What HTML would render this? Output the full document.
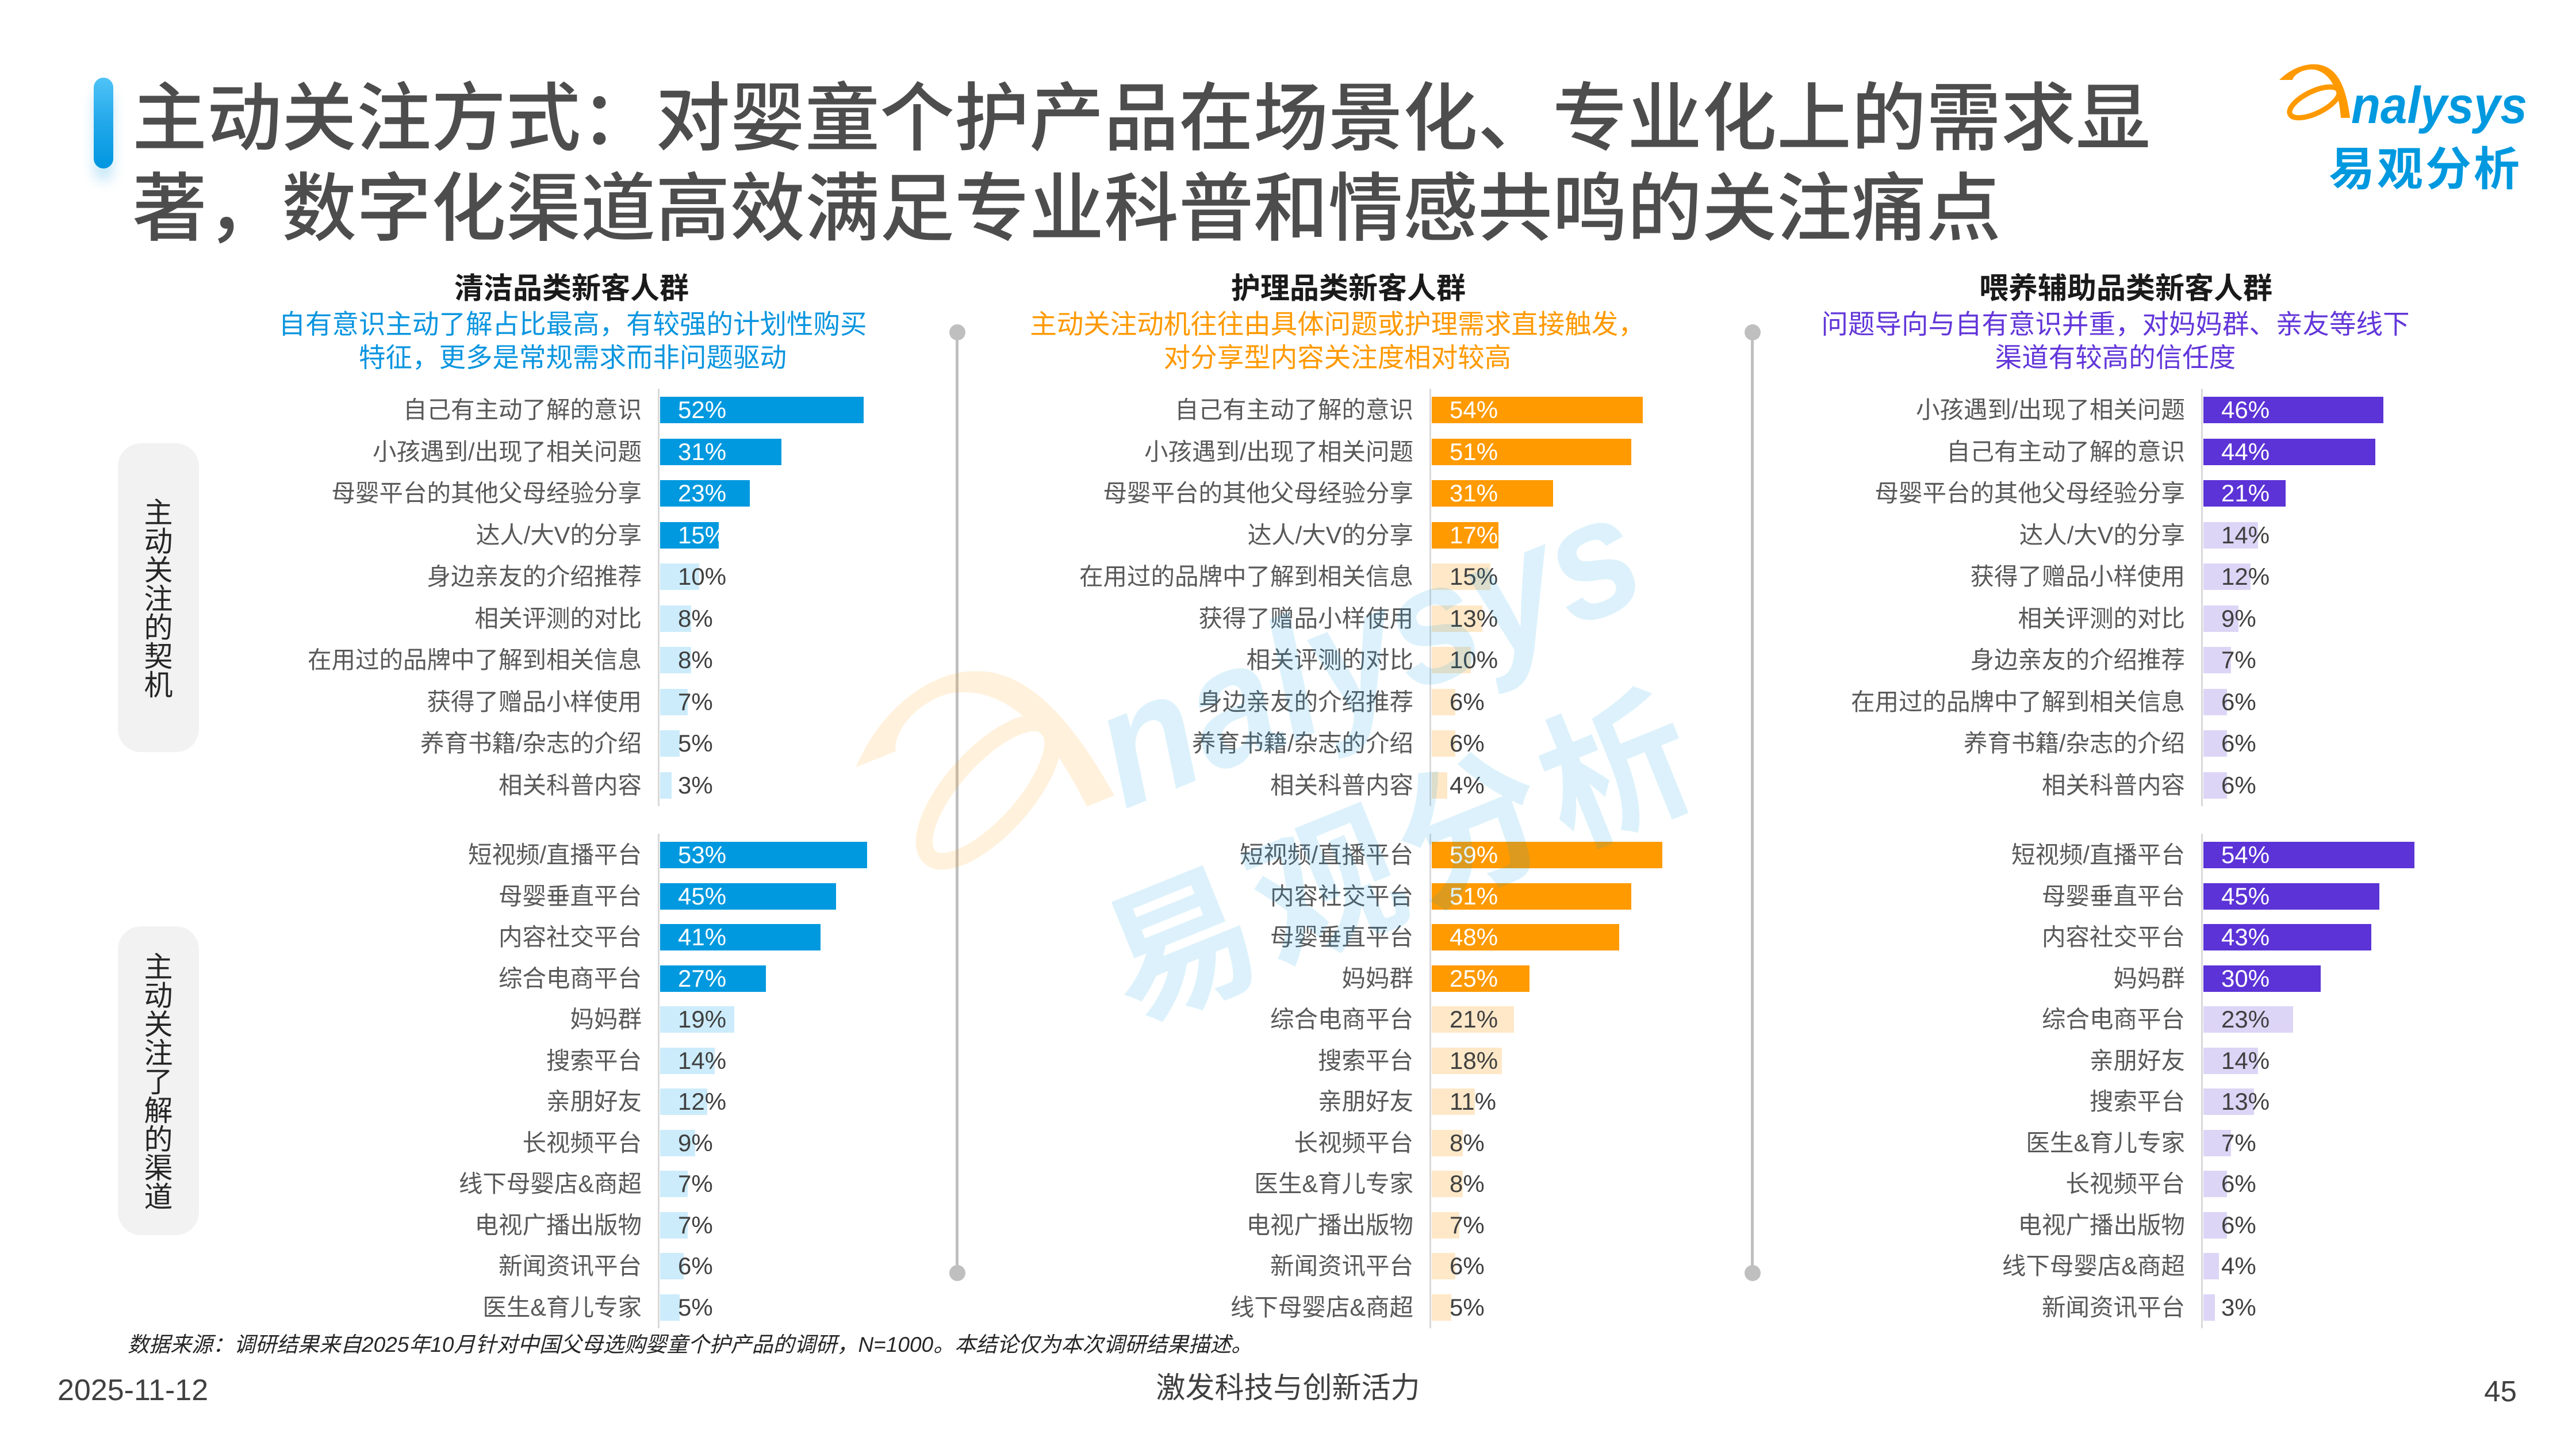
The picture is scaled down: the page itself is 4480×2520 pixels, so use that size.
<!DOCTYPE html>
<html lang="zh-CN">
<head>
<meta charset="utf-8">
<style>
html,body{margin:0;padding:0;background:#fff;}
#pg{position:relative;width:4480px;height:2520px;overflow:hidden;background:#fff;font-family:"Liberation Sans","Noto Sans CJK SC",sans-serif;}
.abs{position:absolute;white-space:nowrap;}
.accent{position:absolute;left:163px;top:135px;width:34px;height:158px;border-radius:17px;background:linear-gradient(180deg,#4fc3f7 0%,#22a8ea 50%,#0096e0 100%);box-shadow:0 22px 22px rgba(0,150,224,0.22);}
.title{position:absolute;left:230px;top:128px;font-size:130px;line-height:157px;color:#4d4d4d;font-weight:500;white-space:nowrap;}
.hd{position:absolute;width:1600px;text-align:center;font-size:51px;line-height:70px;font-weight:bold;color:#1a1a1a;top:467px;white-space:nowrap;}
.sub{position:absolute;width:1600px;text-align:center;font-size:46.5px;line-height:58px;top:535px;white-space:nowrap;}
.col{position:absolute;top:0;width:0;height:0;}
.ax{position:absolute;left:-4px;width:3px;background:#d9d9d9;}
.r{position:absolute;left:0;width:0;height:0;}
.l{position:absolute;right:32px;top:-30px;line-height:60px;font-size:41.5px;color:#595959;white-space:nowrap;}
.b{position:absolute;left:0;top:-23px;height:46px;}
.p{position:absolute;left:31px;top:-30px;line-height:60px;font-size:42px;color:#404040;white-space:nowrap;}
.w{color:#fff;}
.c1 .d{background:#0099df;} .c1 .g{background:#ccecfb;}
.c2 .d{background:#ff9a00;} .c2 .g{background:#ffe8c8;}
.c3 .d{background:#5b33d6;} .c3 .g{background:#ddd5f6;}
.box{position:absolute;left:205px;width:141px;border-radius:40px;background:#f2f2f2;display:flex;align-items:center;justify-content:center;}
.box span{writing-mode:vertical-rl;font-size:50px;line-height:1;color:#262626;font-family:"Noto Sans CJK SC",sans-serif;}
.dv{position:absolute;width:5px;background:#bfbfbf;top:578px;height:1636px;}
.dot{position:absolute;width:28px;height:28px;border-radius:50%;background:#bfbfbf;}
</style>
</head>
<body>
<div id="pg">

<div class="accent"></div>
<div class="title">主动关注方式：对婴童个护产品在场景化、专业化上的需求显<br>著，数字化渠道高效满足专业科普和情感共鸣的关注痛点</div>

<!-- logo -->
<svg class="abs" style="left:0;top:0" width="4480" height="400" viewBox="0 0 4480 400">
  <path d="M3964,139 C3985,118 4010,110 4030,112 C4065,116 4080,150 4087,205 L4071,205 C4068,165 4058,128 4025,121 C4008,119 3990,128 3987,139 Z" fill="#ff9900"/>
  <ellipse cx="4025" cy="178" rx="47" ry="19" transform="rotate(-26 4025 178)" fill="none" stroke="#ff9900" stroke-width="9"/>
  <text x="4089" y="214" font-family="Liberation Sans" font-size="90" font-style="italic" font-weight="bold" fill="#0099df" textLength="306" lengthAdjust="spacingAndGlyphs">nalysys</text>
  <text x="4050" y="322" font-family="Noto Sans CJK SC, sans-serif" font-size="80" font-weight="bold" fill="#0099df" letter-spacing="4">易观分析</text>
</svg>

<!-- column headings -->
<div class="hd" style="left:194px">清洁品类新客人群</div>
<div class="hd" style="left:1545px">护理品类新客人群</div>
<div class="hd" style="left:2897px">喂养辅助品类新客人群</div>

<div class="sub" style="left:196px;color:#0a95df">自有意识主动了解占比最高，有较强的计划性购买<br>特征，更多是常规需求而非问题驱动</div>
<div class="sub" style="left:1526px;color:#ff9900">主动关注动机往往由具体问题或护理需求直接触发，<br>对分享型内容关注度相对较高</div>
<div class="sub" style="left:2879px;color:#6236d9">问题导向与自有意识并重，对妈妈群、亲友等线下<br>渠道有较高的信任度</div>

<!-- dividers -->
<div class="dv" style="left:1662px"></div>
<div class="dot" style="left:1651px;top:564px"></div>
<div class="dot" style="left:1651px;top:2200px"></div>
<div class="dv" style="left:3045px"></div>
<div class="dot" style="left:3034px;top:564px"></div>
<div class="dot" style="left:3034px;top:2200px"></div>

<!-- side boxes -->
<div class="box" style="top:771px;height:537px"><span>主动关注的契机</span></div>
<div class="box" style="top:1611px;height:537px"><span>主动关注了解的渠道</span></div>

<!-- column 1 -->
<div class="col c1" style="left:1148px">
  <div class="ax" style="top:676px;height:726px"></div>
  <div class="ax" style="top:1450px;height:860px"></div>
  <div class="r" style="top:713px"><span class="l">自己有主动了解的意识</span><i class="b d" style="width:353.6px"></i><span class="p w">52%</span></div>
  <div class="r" style="top:785.5px"><span class="l">小孩遇到/出现了相关问题</span><i class="b d" style="width:210.8px"></i><span class="p w">31%</span></div>
  <div class="r" style="top:858px"><span class="l">母婴平台的其他父母经验分享</span><i class="b d" style="width:156.4px"></i><span class="p w">23%</span></div>
  <div class="r" style="top:930.5px"><span class="l">达人/大V的分享</span><i class="b d" style="width:102px"></i><span class="p w">15%</span></div>
  <div class="r" style="top:1003px"><span class="l">身边亲友的介绍推荐</span><i class="b g" style="width:68px"></i><span class="p">10%</span></div>
  <div class="r" style="top:1075.5px"><span class="l">相关评测的对比</span><i class="b g" style="width:54.4px"></i><span class="p">8%</span></div>
  <div class="r" style="top:1148px"><span class="l">在用过的品牌中了解到相关信息</span><i class="b g" style="width:54.4px"></i><span class="p">8%</span></div>
  <div class="r" style="top:1220.5px"><span class="l">获得了赠品小样使用</span><i class="b g" style="width:47.6px"></i><span class="p">7%</span></div>
  <div class="r" style="top:1293px"><span class="l">养育书籍/杂志的介绍</span><i class="b g" style="width:34px"></i><span class="p">5%</span></div>
  <div class="r" style="top:1365.5px"><span class="l">相关科普内容</span><i class="b g" style="width:20.4px"></i><span class="p">3%</span></div>

  <div class="r" style="top:1487px"><span class="l">短视频/直播平台</span><i class="b d" style="width:360.4px"></i><span class="p w">53%</span></div>
  <div class="r" style="top:1558.5px"><span class="l">母婴垂直平台</span><i class="b d" style="width:306px"></i><span class="p w">45%</span></div>
  <div class="r" style="top:1630px"><span class="l">内容社交平台</span><i class="b d" style="width:278.8px"></i><span class="p w">41%</span></div>
  <div class="r" style="top:1701.5px"><span class="l">综合电商平台</span><i class="b d" style="width:183.6px"></i><span class="p w">27%</span></div>
  <div class="r" style="top:1773px"><span class="l">妈妈群</span><i class="b g" style="width:129.2px"></i><span class="p">19%</span></div>
  <div class="r" style="top:1844.5px"><span class="l">搜索平台</span><i class="b g" style="width:95.2px"></i><span class="p">14%</span></div>
  <div class="r" style="top:1916px"><span class="l">亲朋好友</span><i class="b g" style="width:81.6px"></i><span class="p">12%</span></div>
  <div class="r" style="top:1987.5px"><span class="l">长视频平台</span><i class="b g" style="width:61.2px"></i><span class="p">9%</span></div>
  <div class="r" style="top:2059px"><span class="l">线下母婴店&amp;商超</span><i class="b g" style="width:47.6px"></i><span class="p">7%</span></div>
  <div class="r" style="top:2130.5px"><span class="l">电视广播出版物</span><i class="b g" style="width:47.6px"></i><span class="p">7%</span></div>
  <div class="r" style="top:2202px"><span class="l">新闻资讯平台</span><i class="b g" style="width:40.8px"></i><span class="p">6%</span></div>
  <div class="r" style="top:2273.5px"><span class="l">医生&amp;育儿专家</span><i class="b g" style="width:34px"></i><span class="p">5%</span></div>
</div>

<!-- column 2 -->
<div class="col c2" style="left:2490px">
  <div class="ax" style="top:676px;height:726px"></div>
  <div class="ax" style="top:1450px;height:860px"></div>
  <div class="r" style="top:713px"><span class="l">自己有主动了解的意识</span><i class="b d" style="width:367.2px"></i><span class="p w">54%</span></div>
  <div class="r" style="top:785.5px"><span class="l">小孩遇到/出现了相关问题</span><i class="b d" style="width:346.8px"></i><span class="p w">51%</span></div>
  <div class="r" style="top:858px"><span class="l">母婴平台的其他父母经验分享</span><i class="b d" style="width:210.8px"></i><span class="p w">31%</span></div>
  <div class="r" style="top:930.5px"><span class="l">达人/大V的分享</span><i class="b d" style="width:115.6px"></i><span class="p w">17%</span></div>
  <div class="r" style="top:1003px"><span class="l">在用过的品牌中了解到相关信息</span><i class="b g" style="width:102px"></i><span class="p">15%</span></div>
  <div class="r" style="top:1075.5px"><span class="l">获得了赠品小样使用</span><i class="b g" style="width:88.4px"></i><span class="p">13%</span></div>
  <div class="r" style="top:1148px"><span class="l">相关评测的对比</span><i class="b g" style="width:68px"></i><span class="p">10%</span></div>
  <div class="r" style="top:1220.5px"><span class="l">身边亲友的介绍推荐</span><i class="b g" style="width:40.8px"></i><span class="p">6%</span></div>
  <div class="r" style="top:1293px"><span class="l">养育书籍/杂志的介绍</span><i class="b g" style="width:40.8px"></i><span class="p">6%</span></div>
  <div class="r" style="top:1365.5px"><span class="l">相关科普内容</span><i class="b g" style="width:27.2px"></i><span class="p">4%</span></div>

  <div class="r" style="top:1487px"><span class="l">短视频/直播平台</span><i class="b d" style="width:401.2px"></i><span class="p w">59%</span></div>
  <div class="r" style="top:1558.5px"><span class="l">内容社交平台</span><i class="b d" style="width:346.8px"></i><span class="p w">51%</span></div>
  <div class="r" style="top:1630px"><span class="l">母婴垂直平台</span><i class="b d" style="width:326.4px"></i><span class="p w">48%</span></div>
  <div class="r" style="top:1701.5px"><span class="l">妈妈群</span><i class="b d" style="width:170px"></i><span class="p w">25%</span></div>
  <div class="r" style="top:1773px"><span class="l">综合电商平台</span><i class="b g" style="width:142.8px"></i><span class="p">21%</span></div>
  <div class="r" style="top:1844.5px"><span class="l">搜索平台</span><i class="b g" style="width:122.4px"></i><span class="p">18%</span></div>
  <div class="r" style="top:1916px"><span class="l">亲朋好友</span><i class="b g" style="width:74.8px"></i><span class="p">11%</span></div>
  <div class="r" style="top:1987.5px"><span class="l">长视频平台</span><i class="b g" style="width:54.4px"></i><span class="p">8%</span></div>
  <div class="r" style="top:2059px"><span class="l">医生&amp;育儿专家</span><i class="b g" style="width:54.4px"></i><span class="p">8%</span></div>
  <div class="r" style="top:2130.5px"><span class="l">电视广播出版物</span><i class="b g" style="width:47.6px"></i><span class="p">7%</span></div>
  <div class="r" style="top:2202px"><span class="l">新闻资讯平台</span><i class="b g" style="width:40.8px"></i><span class="p">6%</span></div>
  <div class="r" style="top:2273.5px"><span class="l">线下母婴店&amp;商超</span><i class="b g" style="width:34px"></i><span class="p">5%</span></div>
</div>

<!-- column 3 -->
<div class="col c3" style="left:3832px">
  <div class="ax" style="top:676px;height:726px"></div>
  <div class="ax" style="top:1450px;height:860px"></div>
  <div class="r" style="top:713px"><span class="l">小孩遇到/出现了相关问题</span><i class="b d" style="width:312.8px"></i><span class="p w">46%</span></div>
  <div class="r" style="top:785.5px"><span class="l">自己有主动了解的意识</span><i class="b d" style="width:299.2px"></i><span class="p w">44%</span></div>
  <div class="r" style="top:858px"><span class="l">母婴平台的其他父母经验分享</span><i class="b d" style="width:142.8px"></i><span class="p w">21%</span></div>
  <div class="r" style="top:930.5px"><span class="l">达人/大V的分享</span><i class="b g" style="width:95.2px"></i><span class="p">14%</span></div>
  <div class="r" style="top:1003px"><span class="l">获得了赠品小样使用</span><i class="b g" style="width:81.6px"></i><span class="p">12%</span></div>
  <div class="r" style="top:1075.5px"><span class="l">相关评测的对比</span><i class="b g" style="width:61.2px"></i><span class="p">9%</span></div>
  <div class="r" style="top:1148px"><span class="l">身边亲友的介绍推荐</span><i class="b g" style="width:47.6px"></i><span class="p">7%</span></div>
  <div class="r" style="top:1220.5px"><span class="l">在用过的品牌中了解到相关信息</span><i class="b g" style="width:40.8px"></i><span class="p">6%</span></div>
  <div class="r" style="top:1293px"><span class="l">养育书籍/杂志的介绍</span><i class="b g" style="width:40.8px"></i><span class="p">6%</span></div>
  <div class="r" style="top:1365.5px"><span class="l">相关科普内容</span><i class="b g" style="width:40.8px"></i><span class="p">6%</span></div>

  <div class="r" style="top:1487px"><span class="l">短视频/直播平台</span><i class="b d" style="width:367.2px"></i><span class="p w">54%</span></div>
  <div class="r" style="top:1558.5px"><span class="l">母婴垂直平台</span><i class="b d" style="width:306px"></i><span class="p w">45%</span></div>
  <div class="r" style="top:1630px"><span class="l">内容社交平台</span><i class="b d" style="width:292.4px"></i><span class="p w">43%</span></div>
  <div class="r" style="top:1701.5px"><span class="l">妈妈群</span><i class="b d" style="width:204px"></i><span class="p w">30%</span></div>
  <div class="r" style="top:1773px"><span class="l">综合电商平台</span><i class="b g" style="width:156.4px"></i><span class="p">23%</span></div>
  <div class="r" style="top:1844.5px"><span class="l">亲朋好友</span><i class="b g" style="width:95.2px"></i><span class="p">14%</span></div>
  <div class="r" style="top:1916px"><span class="l">搜索平台</span><i class="b g" style="width:88.4px"></i><span class="p">13%</span></div>
  <div class="r" style="top:1987.5px"><span class="l">医生&amp;育儿专家</span><i class="b g" style="width:47.6px"></i><span class="p">7%</span></div>
  <div class="r" style="top:2059px"><span class="l">长视频平台</span><i class="b g" style="width:40.8px"></i><span class="p">6%</span></div>
  <div class="r" style="top:2130.5px"><span class="l">电视广播出版物</span><i class="b g" style="width:40.8px"></i><span class="p">6%</span></div>
  <div class="r" style="top:2202px"><span class="l">线下母婴店&amp;商超</span><i class="b g" style="width:27.2px"></i><span class="p">4%</span></div>
  <div class="r" style="top:2273.5px"><span class="l">新闻资讯平台</span><i class="b g" style="width:20.4px"></i><span class="p">3%</span></div>
</div>

<!-- footer -->
<div class="abs" style="left:222px;top:2314px;font-size:37px;line-height:50px;font-style:italic;color:#262626">数据来源：调研结果来自2025年10月针对中国父母选购婴童个护产品的调研，N=1000。本结论仅为本次调研结果描述。</div>
<div class="abs" style="left:100px;top:2388px;font-size:52px;line-height:60px;color:#404040">2025-11-12</div>
<div class="abs" style="left:1490px;width:1500px;text-align:center;top:2384px;font-size:51px;line-height:60px;color:#404040">激发科技与创新活力</div>
<div class="abs" style="right:103px;top:2390px;font-size:51px;line-height:60px;color:#404040">45</div>

<!-- watermark -->
<svg class="abs" style="left:0;top:0;pointer-events:none" width="4480" height="2520" viewBox="0 0 4480 2520">
  <g opacity="0.14" transform="translate(1955,1408) rotate(-22) scale(3.24) translate(-4089,-214)">
    <path d="M3964,139 C3985,118 4010,110 4030,112 C4065,116 4080,150 4087,205 L4071,205 C4068,165 4058,128 4025,121 C4008,119 3990,128 3987,139 Z" fill="#ff9900"/>
    <ellipse cx="4025" cy="178" rx="47" ry="19" transform="rotate(-26 4025 178)" fill="none" stroke="#ff9900" stroke-width="9"/>
    <text x="4089" y="214" font-family="Liberation Sans" font-size="90" font-style="italic" font-weight="bold" fill="#0099df" textLength="306" lengthAdjust="spacingAndGlyphs">nalysys</text>
    <text x="4050" y="322" font-family="Noto Sans CJK SC, sans-serif" font-size="80" font-weight="bold" fill="#0099df" letter-spacing="4">易观分析</text>
  </g>
</svg>

</div>
</body>
</html>
